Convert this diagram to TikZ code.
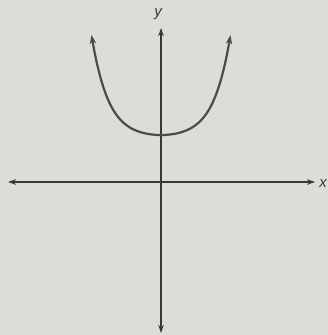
\documentclass[tikz,border=0pt]{standalone}
\usepackage{fontspec}
\setmainfont{Liberation Sans}
\usetikzlibrary{arrows.meta}
\definecolor{paper}{RGB}{221,221,216}
\definecolor{ink}{RGB}{55,55,55}
\tikzset{
  axis/.style={draw=ink, line width=1.4pt, {Stealth[length=8pt,width=5.5pt]}-{Stealth[length=8pt,width=5.5pt]}},
  curve/.style={draw=ink!90!white, line width=2.2pt, {Stealth[length=9pt,width=6.5pt]}-{Stealth[length=9pt,width=6.5pt]}},
  lbl/.style={text=ink, font=\itshape\fontsize{15}{15}\selectfont, inner sep=0pt}
}
\begin{document}
\begin{tikzpicture}[x=1pt,y=-1pt]
\fill[paper] (0,0) rectangle (328,335);
\useasboundingbox (0,0) rectangle (328,335);
\coordinate (xl) at (8,182);
\coordinate (xr) at (315,182);
\coordinate (yt) at (161,28);
\coordinate (yb) at (161,333);
\draw[axis] (xl) -- (xr);
\draw[axis] (yb) -- (yt);
\draw[curve] plot[domain=-1:1, samples=121, smooth]
  ({161+69.5*\x}, {135-100*(0.3*\x*\x+0.3*\x*\x*\x*\x+0.4*\x*\x*\x*\x*\x*\x)});
\node[lbl] (ylab) at (158,14) {y};
\node[lbl] (xlab) at (323,184) {x};
\end{tikzpicture}
\end{document}
